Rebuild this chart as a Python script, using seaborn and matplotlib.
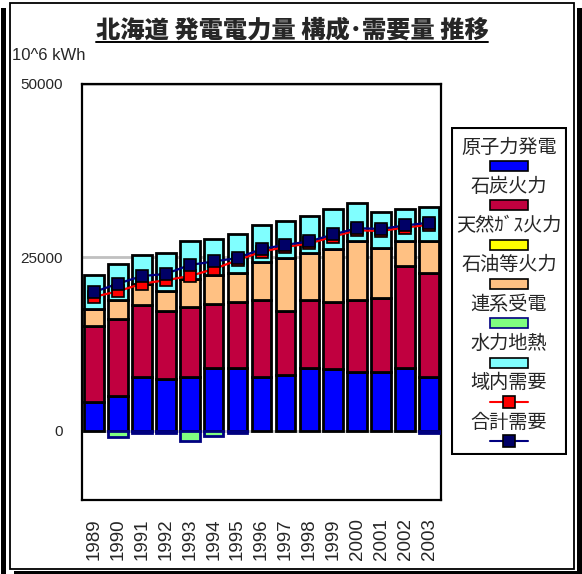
import numpy as np
import pandas as pd
import matplotlib
matplotlib.use("Agg")
import matplotlib.pyplot as plt
import seaborn as sns
from matplotlib.patches import Rectangle
from matplotlib.lines import Line2D

# ---------------- data ----------------
years = [str(y) for y in range(1989, 2004)]
nuclear = [4100, 5000, 7700, 7500, 7800, 9000, 9000, 7800, 8000, 9100, 8900, 8400, 8400, 9100, 7800]
coal = [11000, 11100, 10400, 9700, 10000, 9300, 9500, 11000, 9300, 9700, 9600, 10400, 10700, 14700, 15000]
gas = [0] * 15
oil = [2400, 2800, 3000, 3000, 4100, 4200, 4300, 5500, 7600, 6800, 7700, 8500, 7200, 3500, 4600]
interconn = [0, -900, -400, -300, -1500, -800, -300, 0, 0, 0, 0, 0, 0, 0, -400]
hydro = [4900, 5100, 4200, 5400, 5400, 5200, 5500, 5300, 5400, 5300, 5700, 5600, 5300, 4600, 4800]
local_demand = [19300, 20100, 21200, 21700, 22300, 23300, 24600, 25800, 26500, 27000, 28000, 28900, 28800, 29300, 29700]
total_demand = [20000, 21200, 22300, 22600, 23900, 24400, 24900, 26200, 26800, 27300, 28300, 29200, 29100, 29600, 30000]

series_names = ["原子力発電", "石炭火力", "天然ｶﾞｽ火力", "石油等火力", "連系受電", "水力地熱"]
series_vals = [nuclear, coal, gas, oil, interconn, hydro]
series_colors = ["#0000FF", "#C0003F", "#FFFF00", "#FFC183", "#80FF80", "#80FFFF"]
series_edges = ["black", "black", "black", "black", "#000080", "black"]
line_names = ["域内需要", "合計需要"]
title = "北海道 発電電力量 構成･需要量 推移"
unit_label = "10^6 kWh"
yticks = [0, 25000, 50000]

# ---------------- style ----------------
sns.set_theme(style="white")
FAM = ["Liberation Sans", "Noto Sans CJK JP", "DejaVu Sans"]
plt.rcParams["font.family"] = FAM

W, H = 582, 574
fig = plt.figure(figsize=(W / 100, H / 100), dpi=100)

# background frame axes (pixel coordinates)
bg = fig.add_axes([0, 0, 1, 1], zorder=-5)
bg.set_xlim(0, W)
bg.set_ylim(H, 0)
bg.axis("off")
bg.add_patch(Rectangle((9.5, 2.5), 564, 566, fill=False, edgecolor="black", lw=1.3))
bg.add_patch(Rectangle((1, 8), 4.5, 566, color="black", lw=0))
bg.add_patch(Rectangle((577, 8), 4.5, 566, color="black", lw=0))
bg.add_patch(Rectangle((14, 571), 568, 3.5, color="black", lw=0))

ax = fig.add_axes([82 / W, 1 - 500 / H, (441 - 82) / W, (500 - 84) / H])

# ---------------- bars ----------------
df = pd.DataFrame({"year": years})
pos_bottom = np.zeros(len(years))
for name, vals, col, ec in zip(series_names, series_vals, series_colors, series_edges):
    v = np.array(vals, dtype=float)
    bottom = np.where(v >= 0, pos_bottom, 0.0)
    df["v"] = v
    sns.barplot(data=df, x="year", y="v", bottom=bottom, color=col, edgecolor=ec,
                linewidth=2.0, width=0.82, errorbar=None, saturation=1, ax=ax, zorder=3)
    pos_bottom = pos_bottom + np.where(v >= 0, v, 0.0)

xs = np.arange(len(years))
ldf = pd.DataFrame({"x": xs, "local": local_demand, "total": total_demand})
sns.lineplot(data=ldf, x="x", y="local", color="#FF0000", lw=1.6, marker="s", markersize=8,
             markerfacecolor="#FF0000", markeredgecolor="black", markeredgewidth=1.2, ax=ax, zorder=5)
sns.lineplot(data=ldf, x="x", y="total", color="#000080", lw=1.6, marker="s", markersize=9,
             markerfacecolor="#000066", markeredgecolor="black", markeredgewidth=1.2, ax=ax, zorder=6)

ax.set_xlim(-0.5, len(years) - 0.5)
ax.set_ylim(-10000, 50000)
ax.set_yticks(yticks)
ax.set_yticklabels([str(t) for t in yticks], fontsize=11)
ax.set_xticks(xs)
ax.set_xticklabels(years, rotation=90, fontsize=13.5)
ax.tick_params(axis="both", length=0)
ax.tick_params(axis="y", pad=14)
ax.tick_params(axis="x", pad=13)
ax.set_xlabel("")
ax.set_ylabel("")
ax.yaxis.grid(True, color="#C0C0C0", lw=2, zorder=0)
ax.set_axisbelow(True)
for s in ax.spines.values():
    s.set_visible(True)
    s.set_color("black")
    s.set_linewidth(1.6)
if ax.get_legend():
    ax.get_legend().remove()

fig.text(12 / W, 1 - 55 / H, unit_label, fontsize=12, ha="left", va="center")
t = fig.text(292 / W, 1 - 30 / H, title, fontsize=17.5, fontweight="heavy", ha="center", va="center",
             family=["Noto Sans CJK JP", "DejaVu Sans"])

# ---------------- legend (manual, text above handle) ----------------
lx0, ly0, lw_, lh_ = 451, 127, 116, 328
lg = fig.add_axes([lx0 / W, 1 - (ly0 + lh_) / H, lw_ / W, lh_ / H], zorder=10)
lg.set_xlim(0, lw_)
lg.set_ylim(lh_, 0)
lg.axis("off")
lg.add_patch(Rectangle((1, 1), lw_ - 2, lh_ - 2, fill=False, edgecolor="black", lw=1.5))
step = 39.3
cx = lw_ / 2
all_names = series_names + line_names
for i, name in enumerate(all_names):
    ty = 20 + i * step
    lg.text(cx, ty, name, fontsize=13.8, ha="center", va="center",
            family=["Noto Sans CJK JP", "DejaVu Sans"])
    hy = ty + 19
    if i < len(series_names):
        lg.add_patch(Rectangle((cx - 19, hy - 5), 38, 10, facecolor=series_colors[i],
                               edgecolor=series_edges[i], lw=1.2))
    else:
        col, mfc = ("#FF0000", "#FF0000") if i == len(series_names) else ("#000080", "#000066")
        lg.add_line(Line2D([cx - 19, cx + 19], [hy, hy], color=col, lw=1.5))
        lg.add_line(Line2D([cx], [hy], marker="s", markersize=8, markerfacecolor=mfc,
                           markeredgecolor="black", markeredgewidth=1.2))

# underline title
fig.canvas.draw()
bb = t.get_window_extent(fig.canvas.get_renderer()).transformed(fig.transFigure.inverted())
fig.add_artist(Line2D([bb.x0, bb.x1], [bb.y0 + 0.001, bb.y0 + 0.001], color="black", lw=1.4,
                      transform=fig.transFigure))

fig.savefig("out.png", dpi=100)
